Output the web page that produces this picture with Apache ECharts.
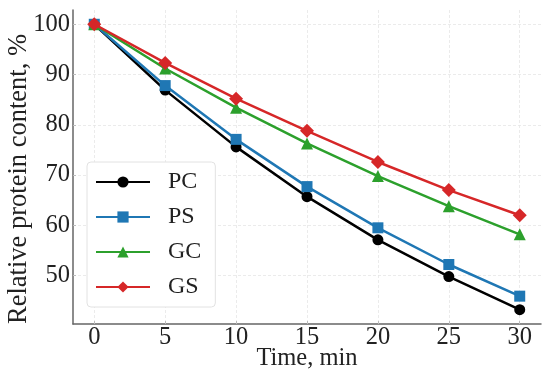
<!DOCTYPE html>
<html><head><meta charset="utf-8">
<script src="https://cdn.jsdelivr.net/npm/echarts@6/dist/echarts.min.js"></script>
<style>html,body{margin:0;padding:0;background:#fff}#c{width:550px;height:379px}</style>
</head><body><div id="c"></div>
<script>
const times = [0, 5, 10, 15, 20, 25, 30];
const PC = [100, 86.9, 75.6, 65.7, 57.1, 49.8, 43.2];
const PS = [100, 87.8, 77.1, 67.7, 59.5, 52.2, 45.9];
const GC = [100, 91.2, 83.4, 76.3, 69.8, 63.8, 58.2];
const GS = [100, 92.3, 85.2, 78.8, 72.6, 67.0, 62.0];
const xTicks = [0, 5, 10, 15, 20, 25, 30];
const yTicks = [50, 60, 70, 80, 90, 100];
const names = ['PC', 'PS', 'GC', 'GS'];
const colors = ['#000000', '#1f77b4', '#2ca02c', '#d62728'];
const symbols = ['circle', 'rect', 'triangle', 'diamond'];
const sizes = [11, 11, 12, 14];
const dataAll = [PC, PS, GC, GS];
const font = '"Liberation Serif","Times New Roman",serif';
const chart = echarts.init(document.getElementById('c'));
chart.setOption({
  animation: false,
  grid: {left: 73, top: 10, right: 9, bottom: 55, containLabel: false, outerBoundsMode: 'none'},
  legend: {
    orient: 'vertical', left: 87, top: 162,
    itemWidth: 54, itemHeight: 14, itemGap: 11,
    padding: [8, 14, 8, 8],
    backgroundColor: '#fff', borderColor: '#e2e2e2', borderWidth: 1, borderRadius: 4,
    textStyle: {fontFamily: font, fontSize: 24, color: '#222', padding: [0, 0, 0, 13]},
    data: names
  },
  xAxis: {
    type: 'value', min: -1.5, max: 31.5,
    name: 'Time, min', nameLocation: 'middle', nameGap: 22, nameMoveOverlap: false,
    nameTextStyle: {fontFamily: font, fontSize: 24.5, color: '#222'},
    axisLine: {show: true, onZero: false, lineStyle: {color: '#666', width: 1.5}},
    axisTick: {show: true, inside: true, length: 3, customValues: xTicks, lineStyle: {color: '#bbb'}},
    axisLabel: {customValues: xTicks, fontFamily: font, fontSize: 24.5, color: '#222', margin: 1},
    splitLine: {show: true, lineStyle: {color: '#e6e6e6', type: [3, 2], width: 0.8}}
  },
  yAxis: {
    type: 'value', min: 40.36, max: 102.84,
    name: 'Relative protein content, %', nameLocation: 'middle', nameGap: 40, nameMoveOverlap: false,
    nameTextStyle: {fontFamily: font, fontSize: 26.5, color: '#222', padding: [0, 24, 0, 0]},
    axisLine: {show: true, onZero: false, lineStyle: {color: '#666', width: 1.5}},
    axisTick: {show: true, inside: true, length: 3, customValues: yTicks, lineStyle: {color: '#bbb'}},
    axisLabel: {customValues: yTicks, fontFamily: font, fontSize: 24.5, color: '#222', margin: 3},
    splitLine: {show: true, lineStyle: {color: '#e6e6e6', type: [3, 2], width: 0.8}}
  },
  series: names.map((n, i) => ({
    name: n, type: 'line',
    data: times.map((t, j) => [t, dataAll[i][j]]),
    symbol: symbols[i], symbolSize: sizes[i],
    lineStyle: {color: colors[i], width: 2.5},
    itemStyle: {color: colors[i]},
    z: 2 + i
  }))
});
</script></body></html>
